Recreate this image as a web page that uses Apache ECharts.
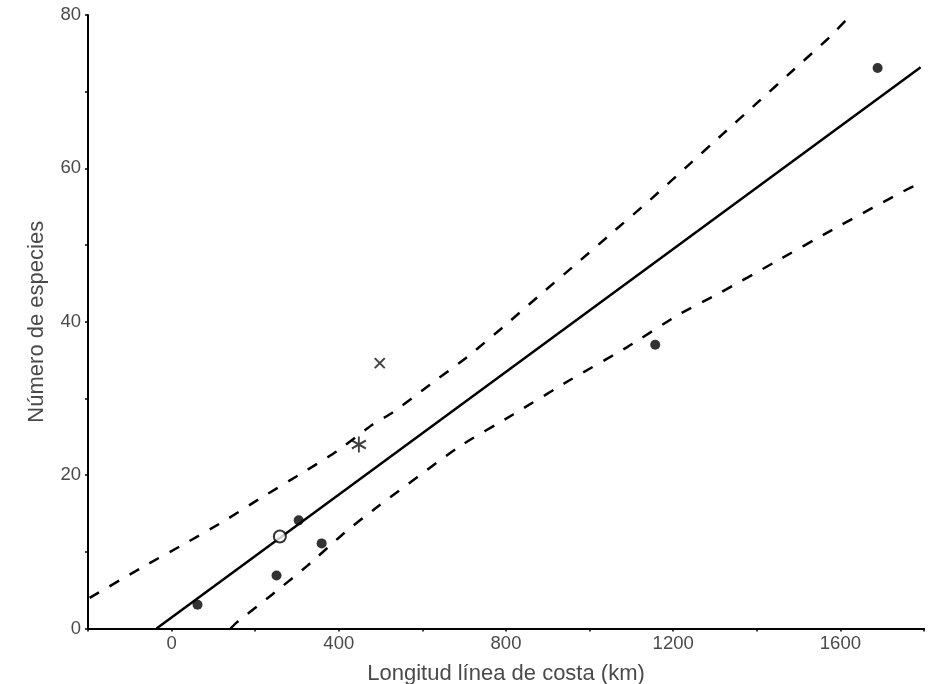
<!DOCTYPE html>
<html>
<head>
<meta charset="utf-8">
<script src="https://cdn.jsdelivr.net/npm/echarts@6/dist/echarts.min.js"></script>
<style>
  html, body { margin: 0; padding: 0; background: #fff; }
  #chart { width: 930px; height: 684px; }
</style>
</head>
<body>
<div id="chart"></div>
<script>
// filled dots
var islands = [[62, 3.1], [251, 6.9], [304, 14.1], [359, 11.1], [1157, 37.0], [1689, 73.1]];
// special points
var openPoint = [[259, 12.0]];
var starPoint = [[448, 24.0]];
var crossPoint = [[498, 34.6]];
// regression line (end points)
var fitLine = [[-36, 0], [1792, 73.2]];
// confidence band
var upperBand = [[-196, 4.0], [-60, 8.3], [36, 11.2], [122, 13.9], [216, 17.1], [307, 20.1],
  [395, 23.1], [481, 26.6], [527, 28.1], [618, 31.8], [707, 35.4], [793, 39.3], [877, 43.3],
  [965, 47.4], [1056, 51.7], [1145, 55.9], [1232, 60.2], [1317, 64.4], [1400, 68.5],
  [1487, 72.8], [1574, 77.1], [1625, 80]];
var lowerBand = [[141, 0], [156, 0.8], [240, 4.4], [323, 8.1], [414, 12.5], [491, 15.8],
  [685, 23.6], [817, 27.9], [953, 32.4], [1090, 36.7], [1212, 40.9], [1313, 43.8],
  [1444, 47.8], [1581, 52.0], [1768, 57.5], [1796, 58.0]];

var xLabelStep = 400, yLabelStep = 20;

var font = 'Liberation Sans, Arial, sans-serif';
var ink = '#000';
var txt = '#4a4a4a';

var chart = echarts.init(document.getElementById('chart'));

chart.setOption({
  animation: false,
  grid: { left: 88, right: 6, top: 15, bottom: 55.5, outerBoundsMode: 'none', containLabel: false },
  xAxis: {
    type: 'value', min: -200, max: 1800, interval: 200,
    name: 'Longitud línea de costa (km)', nameLocation: 'middle', nameGap: 34,
    nameTextStyle: { fontFamily: font, fontSize: 22, color: txt },
    axisLine: { onZero: false, lineStyle: { color: ink, width: 2 } },
    axisTick: { show: true, length: 3, lineStyle: { color: ink, width: 1.5 } },
    axisLabel: {
      fontFamily: font, fontSize: 18.5, color: txt, margin: 6,
      formatter: function (v) { return v % xLabelStep === 0 ? String(v) : ''; }
    },
    splitLine: { show: false }
  },
  yAxis: {
    type: 'value', min: 0, max: 80, interval: 10,
    name: 'Número de especies', nameLocation: 'middle', nameGap: 40, nameRotate: 90,
    nameTextStyle: { fontFamily: font, fontSize: 22, color: txt },
    axisLine: { show: true, onZero: false, lineStyle: { color: ink, width: 2 } },
    axisTick: { show: true, length: 3, lineStyle: { color: ink, width: 1.5 } },
    axisLabel: {
      fontFamily: font, fontSize: 18.5, color: txt, margin: 7,
      formatter: function (v) { return v % yLabelStep === 0 ? String(v) : ''; }
    },
    splitLine: { show: false }
  },
  series: [
    {
      type: 'line', data: fitLine, showSymbol: false, symbol: 'none',
      lineStyle: { color: ink, width: 2.5 }
    },
    {
      type: 'line', data: upperBand, symbol: 'none', smooth: 0.2,
      lineStyle: { color: ink, width: 2.5, type: [11, 12] }
    },
    {
      type: 'line', data: lowerBand, symbol: 'none', smooth: 0.2,
      lineStyle: { color: ink, width: 2.5, type: [11, 12] }
    },
    {
      type: 'scatter', data: islands, symbol: 'circle', symbolSize: 10, z: 5,
      itemStyle: { color: ink }
    },
    {
      type: 'scatter', data: openPoint, symbol: 'circle', symbolSize: 12, z: 6,
      itemStyle: { color: '#fff', borderColor: ink, borderWidth: 2 }
    },
    {
      type: 'scatter', data: starPoint, z: 6,
      symbol: 'path://M0,-10L0,10M-8.66,-5L8.66,5M-8.66,5L8.66,-5', symbolSize: [14, 16],
      itemStyle: { color: 'none', borderColor: '#111', borderWidth: 2 }
    },
    {
      type: 'scatter', data: crossPoint, z: 6,
      symbol: 'path://M-5,-5L5,5M-5,5L5,-5', symbolSize: 10,
      itemStyle: { color: 'none', borderColor: '#111', borderWidth: 2 }
    }
  ]
});
</script>
</body>
</html>
